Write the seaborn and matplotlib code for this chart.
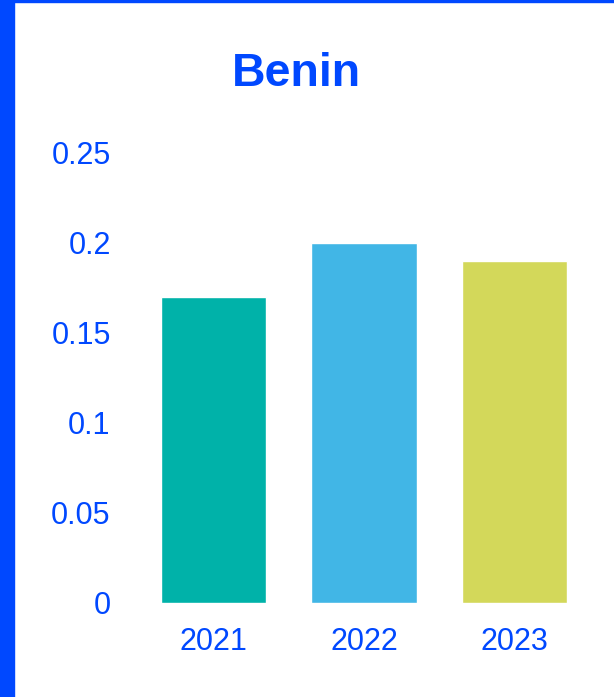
import pandas as pd
import seaborn as sns
import matplotlib
matplotlib.use("Agg")
import matplotlib.pyplot as plt

years = ["2021", "2022", "2023"]
values = [0.17, 0.20, 0.19]
bar_colors = ["#00B2A9", "#41B6E6", "#D3D85A"]
y_ticks = [0, 0.05, 0.1, 0.15, 0.2, 0.25]
y_labels = ["0", "0.05", "0.1", "0.15", "0.2", "0.25"]

blue = "#0048FF"

sns.set_style("white")
plt.rcParams["font.family"] = ["Liberation Sans", "DejaVu Sans"]

df = pd.DataFrame({"year": years, "value": values})

fig = plt.figure(figsize=(6.14, 6.97), dpi=100)
ax = fig.add_axes([138.5 / 614, 1 - 603 / 697, 451 / 614, 450 / 697])

sns.barplot(data=df, x="year", y="value", hue="year", palette=bar_colors,
            width=0.7, legend=False, ax=ax, saturation=1)

ax.set_ylim(0, 0.25)
ax.set_xlim(-0.5, 2.5)
ax.set_yticks(y_ticks)
ax.set_yticklabels(y_labels)
ax.set_xlabel("")
ax.set_ylabel("")
ax.tick_params(axis="both", length=0, labelsize=22, colors=blue)
ax.tick_params(axis="y", pad=20)
ax.tick_params(axis="x", pad=17.5)
for s in ax.spines.values():
    s.set_visible(False)

fig.text(296 / 614, 1 - 74 / 697, "Benin", ha="center", va="center",
         fontsize=33.5, fontweight="bold", color=blue)

# frame edges: thick left bar and thin top line
fig.patches.append(plt.Rectangle((0, 0), 14 / 614, 1, transform=fig.transFigure,
                                 color=blue, zorder=10))
fig.patches.append(plt.Rectangle((0, 1 - 2 / 697), 1, 2 / 697, transform=fig.transFigure,
                                 color=blue, zorder=10))

fig.savefig("out.png", dpi=100)
